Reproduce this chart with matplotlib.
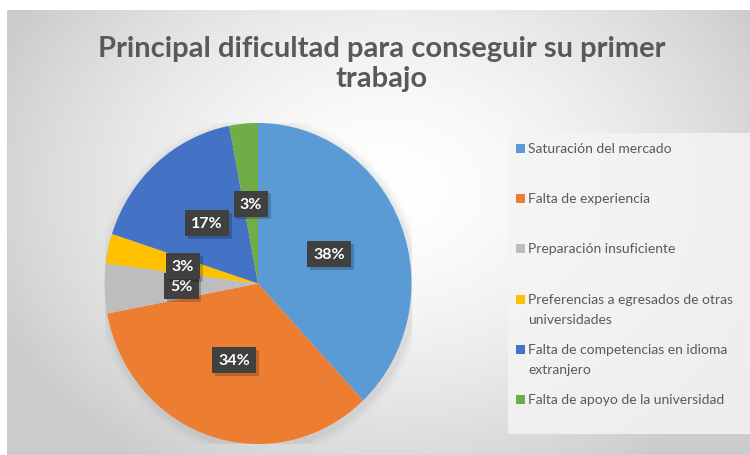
import numpy as np
import matplotlib
matplotlib.use('Agg')
import matplotlib.pyplot as plt
import matplotlib.patheffects as pe
from matplotlib.patches import Rectangle, Ellipse

# --- data ---
categories = [
    'Saturación del mercado',
    'Falta de experiencia',
    'Preparación insuficiente',
    'Preferencias a egresados de otras\nuniversidades',
    'Falta de competencias en idioma\nextranjero',
    'Falta de apoyo de la universidad',
]
shares = [38, 34, 5, 3, 17, 3]
colors = ['#5B9BD5', '#ED7D31', '#BDBDBD', '#FFC000', '#4472C4', '#70AD47']
title = 'Principal dificultad para conseguir su primer\ntrabajo'

W, H = 750, 456
plt.rcParams['font.family'] = ['Lato', 'DejaVu Sans']

fig = plt.figure(figsize=(W / 100, H / 100), dpi=100)
fig.patch.set_facecolor('white')


def fx(px):
    return px / W


def fy(py):
    # pixel row from top -> figure fraction from bottom
    return 1 - py / H


## --- chart area background: soft radial gradient, painted as pixels --- ##
gx, gy = np.meshgrid(np.arange(7, W) + 0.5, np.arange(11, H) + 0.5)
r = np.sqrt(((gx - 390) / 430) ** 2 + ((gy - 190) / 330) ** 2)
shade = 1.0 - 0.20 * np.clip(r, 0, 1) ** 1.6
fig.figimage(np.dstack([shade] * 3), xo=7, yo=0, origin='upper', zorder=0)

## --- legend box --- ##
fig.patches.append(Rectangle((fx(508), fy(435)), fx(W - 508), fy(134) - fy(435),
                             transform=fig.transFigure, facecolor='#f4f4f4',
                             edgecolor='none', alpha=0.85, zorder=1))

## --- pie --- ##
cx, cy, rx, ry = 258, 284.5, 153.5, 160.5
ax = fig.add_axes([fx(cx - rx), fy(cy + ry), fx(2 * rx), fy(cy - ry) - fy(cy + ry)])
ax.set_zorder(2)
ax.patch.set_alpha(0)

# faint shadow under the pie
for k, a in zip([1.06, 1.04, 1.02], [0.04, 0.06, 0.08]):
    ax.add_patch(Ellipse((0.01, -0.02), 2 * k, 2 * k, facecolor='#808080',
                         alpha=a, edgecolor='none', zorder=0))

wedges, texts, autotexts = ax.pie(
    shares, colors=colors, startangle=90, counterclock=False,
    autopct=lambda p: f'{p:.0f}%', pctdistance=0.5,
    wedgeprops=dict(linewidth=0),
    textprops=dict(color='white', fontsize=11.5, fontweight='bold'))
for t in autotexts:
    t.set_bbox(dict(boxstyle='square,pad=0.38', facecolor='#404040',
                    edgecolor='none'))
    t.get_bbox_patch().set_path_effects(
        [pe.SimplePatchShadow(offset=(2, -2), shadow_rgbFace='black', alpha=0.2),
         pe.Normal()])
ax.set_aspect('auto')
ax.set_xlim(-1, 1)
ax.set_ylim(-1, 1)

## --- title --- ##
fig.text(fx(382), fy(64), title, ha='center', va='center', fontsize=21,
         fontweight='bold', color='#595959', linespacing=1.22, zorder=3)

## --- legend entries --- ##
entry_y = [149, 199, 249, 300, 350, 400]
for label, c, y in zip(categories, colors, entry_y):
    fig.patches.append(Rectangle((fx(516), fy(y + 4.5)), fx(9), fy(y - 4.5) - fy(y + 4.5),
                                 transform=fig.transFigure, facecolor=c,
                                 edgecolor='none', zorder=3))
    for i, line in enumerate(label.split('\n')):
        fig.text(fx(528), fy(y + 20 * i), line, ha='left', va='center',
                 fontsize=10, color='#595959', zorder=3)

fig.savefig('out.png', dpi=100)
